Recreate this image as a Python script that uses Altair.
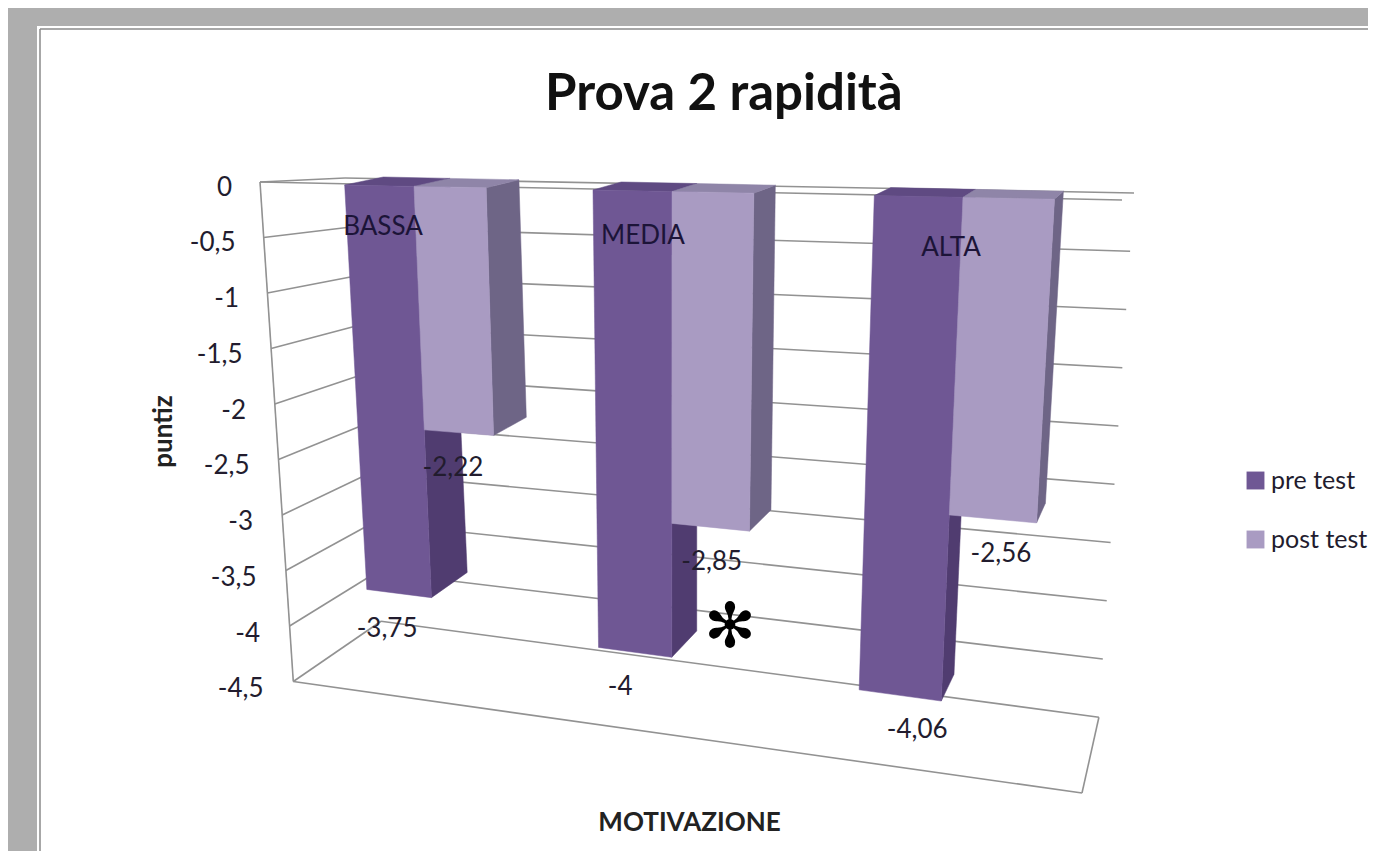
import altair as alt
import pandas as pd

# ---- values ----
CATEGORIES = ["BASSA", "MEDIA", "ALTA"]
SERIES = ["pre test", "post test"]
PRE_TEST = [-3.75, -4.0, -4.06]
POST_TEST = [-2.22, -2.85, -2.56]
TICKS = [0, -0.5, -1, -1.5, -2, -2.5, -3, -3.5, -4, -4.5]

PRE_COLORS = dict(front="#6f5794", side="#503c70", top="#5f4a82")
POST_COLORS = dict(front="#a99bc2", side="#6e6586", top="#8f85a8")
GRID = "#929292"
FONT = "Lato"
INK = "#221c2e"

W, H, TOP = 1360, 733, 110


# ---- pseudo-3D projection of (position along category axis, value, depth) ----
def col(u):
    return 414 + 241.5 * u + 16.5 * u * u


def project(u, v):
    x0, a = col(u), abs(v)
    return (x0 + (5.9 - (x0 - 345) * 0.0182) * a,
            185 + (x0 - 345) * 0.02 + (108 + (x0 - 350) * 0.0262) * a)


def behind(u, v):
    x, y = project(u, v)
    return x + 33 - (col(u) - 480) * 0.042, y - 8 - 4.6 * abs(v)


def wall_back_left(v):
    return 345 + 8 * abs(v), 178 + 98.5 * abs(v)


def wall_back_right(v):
    return 1134 - 7.8 * abs(v), 193 + 116.5 * abs(v)


def wall_front_left(v):
    return 260 + 7.4 * abs(v), 182 + 111 * abs(v)


xs = alt.Scale(domain=[8, 8 + W], range=[0, W])
ys = alt.Scale(domain=[8 + TOP, 8 + TOP + H], range=[0, H])
X = alt.X("x:Q", scale=xs, axis=None)
Y = alt.Y("y:Q", scale=ys, axis=None)


def polygon(points, color):
    pts = list(points) + [points[0]]
    df = pd.DataFrame({"x": [p[0] for p in pts], "y": [p[1] for p in pts], "k": range(len(pts))})
    return alt.Chart(df).mark_line(fill=color, stroke=color, strokeWidth=0.5).encode(x=X, y=Y, order="k:Q")


def segments(pairs, width=1.6):
    df = pd.DataFrame([{"x": a[0], "y": a[1], "x2": b[0], "y2": b[1]} for a, b in pairs])
    return alt.Chart(df).mark_rule(color=GRID, strokeWidth=width).encode(
        x=X, y=Y, x2="x2:Q", y2="y2:Q")


def texts(df, **mark):
    return alt.Chart(df).mark_text(font=FONT, **mark).encode(x=X, y=Y, text="t:N")


# ---- page frame ----
panel = alt.Chart(pd.DataFrame({"a": [0]})).mark_rect(color="white").encode(
    x=alt.value(29), x2=alt.value(W + 5), y=alt.value(18 - TOP), y2=alt.value(H + 5))
frame_top = alt.Chart(pd.DataFrame({"a": [0]})).mark_rule(color="#8a8a8a", strokeWidth=1.5).encode(
    x=alt.value(32), x2=alt.value(W + 5), y=alt.value(21 - TOP))
frame_left = alt.Chart(pd.DataFrame({"a": [0]})).mark_rule(color="#8a8a8a", strokeWidth=1.5).encode(
    x=alt.value(32), y=alt.value(21 - TOP), y2=alt.value(H + 5))

# ---- walls and floor ----
walls = [(wall_back_left(t), wall_back_right(t)) for t in TICKS]
walls += [(wall_front_left(t), wall_back_left(t)) for t in TICKS]
floor_corner = (1082, 793)
walls += [(wall_front_left(TICKS[0]), wall_front_left(TICKS[-1])),
          (wall_front_left(TICKS[-1]), floor_corner),
          (floor_corner, wall_back_right(TICKS[-1])),
          (wall_front_left(0), (1122, 200))]
grid = segments(walls)

# ---- bars ----
HALF = 0.293
layers = []
for i in range(len(CATEGORIES)):
    for lo, hi, v, c in [(i - HALF, i, PRE_TEST[i], PRE_COLORS), (i, i + HALF, POST_TEST[i], POST_COLORS)]:
        layers.append(polygon([project(hi, 0), project(hi, v), behind(hi, v), behind(hi, 0)], c["side"]))
        layers.append(polygon([project(lo, 0), project(hi, 0), behind(hi, 0), behind(lo, 0)], c["top"]))
        layers.append(polygon([project(lo, 0), project(hi, 0), project(hi, v), project(lo, v)], c["front"]))

# ---- labels ----
NUDGE_PRE = [-12, -15, 17]
NUDGE_POST = [-6, 1, 8]
rows = []
for i in range(len(CATEGORIES)):
    for lo, hi, v, n in [(i - HALF, i, PRE_TEST[i], NUDGE_PRE[i]), (i, i + HALF, POST_TEST[i], NUDGE_POST[i])]:
        xa, ya = project(lo, v)
        xb, yb = project(hi, v)
        rows.append({"x": (xa + xb) / 2 + n, "y": (ya + yb) / 2 + 35,
                     "t": f"{v:g}".replace(".", ",")})
value_labels = texts(pd.DataFrame(rows), fontSize=26, color=INK, align="center", baseline="middle")

CAT_NUDGE = [(-31, 41), (-29, 44), (-12, 51)]
cat_rows = []
for i, c in enumerate(CATEGORIES):
    x0, y0 = project(i, 0)
    cat_rows.append({"x": x0 + CAT_NUDGE[i][0], "y": y0 + CAT_NUDGE[i][1], "t": c})
cat_labels = texts(pd.DataFrame(cat_rows), fontSize=26, color="#1c1438", align="center", baseline="middle")

tick_df = pd.DataFrame({"x": [232 + 7 * abs(t) for t in TICKS],
                        "y": [187.5 + 111.5 * abs(t) for t in TICKS],
                        "t": [f"{t:g}".replace(".", ",") for t in TICKS]})
tick_labels = texts(tick_df, fontSize=26, color=INK, align="right", baseline="middle")

star = alt.Chart(pd.DataFrame({"x": [730], "y": [628], "t": ["\u273b"]})).mark_text(
    font="DejaVu Sans", fontSize=62, color="black", align="center", baseline="middle"
).encode(x=X, y=Y, text="t:N")

# ---- axes titles on a hidden carrier (under the panel), real legend ----
carrier = alt.Chart(pd.DataFrame({"x": [700], "y": [400], "s": [SERIES[0]]})).mark_square(size=1).encode(
    x=alt.X("x:Q", scale=xs, title="MOTIVAZIONE",
            axis=alt.Axis(labels=False, ticks=False, domain=False, grid=False, titleFont=FONT,
                          titleFontSize=26, titleFontWeight="bold", titleColor="#222222", zindex=1,
                          titleX=681, titleY=822 - 118 - H, titleAlign="center", titleBaseline="middle")),
    y=alt.Y("y:Q", scale=ys, title="puntiz",
            axis=alt.Axis(labels=False, ticks=False, domain=False, grid=False, titleFont=FONT,
                          titleFontSize=26, titleFontWeight="bold", titleColor="#222222", zindex=1,
                          titleX=155, titleY=431 - 118, titleAlign="center", titleBaseline="middle")),
    color=alt.Color("s:N",
                    scale=alt.Scale(domain=SERIES, range=[PRE_COLORS["front"], POST_COLORS["front"]]),
                    legend=alt.Legend(title=None, orient="none", legendX=1235, legendY=350,
                                      symbolType="square", symbolSize=320, symbolOpacity=1,
                                      symbolStrokeWidth=0, labelFont=FONT, labelFontSize=25,
                                      labelColor=INK, rowPadding=33, labelOffset=3,
                                      labelLimit=200)),
)

chart = alt.layer(carrier, panel, frame_top, frame_left, grid, *layers,
                  value_labels, cat_labels, tick_labels, star).resolve_axis(
    x="independent", y="independent").properties(
    width=W, height=H,
    background="#aeaeae",
    padding={"left": 0, "top": TOP, "right": 0, "bottom": 0},
    autosize=alt.AutoSizeParams(type="none"),
    title=alt.TitleParams("Prova 2 rapidit\u00e0", font=FONT, fontSize=51, fontWeight="bold",
                          color="#111111", anchor="start", dx=537, offset=-2, dy=93),
).configure_view(stroke=None)

chart.save("out.html", embed_options={"renderer": "svg", "actions": False})
